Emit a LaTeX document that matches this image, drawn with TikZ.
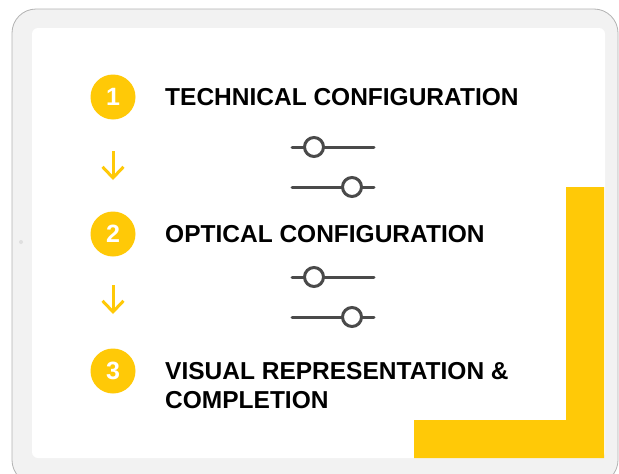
\documentclass[tikz,border=0pt]{standalone}
\usepackage{fontspec}
\setmainfont{Liberation Sans}
\usetikzlibrary{arrows.meta}
\definecolor{jaune}{HTML}{FFC907}
\definecolor{fond}{HTML}{F2F2F2}
\definecolor{gris}{HTML}{4A4A4A}
\tikzset{
  etape/.style={circle,fill=jaune,text=white,minimum size=45pt,inner sep=0pt,
    font=\fontsize{25}{25}\selectfont\bfseries},
  titre/.style={anchor=west,align=left,inner sep=0pt,
    font=\fontsize{24.5}{29}\selectfont\bfseries},
  fleche/.style={jaune,line width=3pt,-{Straight Barb[length=11pt,width=21pt]}},
  rail/.style={gris,line width=3pt,line cap=round},
  curseur/.style={circle,draw=gris,fill=white,line width=3pt,minimum size=19pt,inner sep=0pt}
}
\begin{document}
\begin{tikzpicture}[x=1pt,y=-1pt]
    \useasboundingbox (0,0) rectangle (619,474);
    \clip (0,0) rectangle (619,474);

    % Cadre
    \draw[fill=fond,draw=gray!60,line width=0.8pt,rounded corners=24pt] (12,9) rectangle (618,484);
    \fill[white,rounded corners=6pt] (32,28) rectangle (605,458);
    \fill[gray!25] (21,242) circle (2);

    % Equerre jaune
    \fill[jaune] (566,187) -- (604,187) -- (604,458) -- (414,458) -- (414,420) -- (566,420) -- cycle;

    % Etapes
    \node[etape] (e1) at (113,97) {1};
    \node[etape] (e2) at (113,234) {2};
    \node[etape] (e3) at (113,371) {3};

    \node[titre] (t1) at (165,97) {TECHNICAL CONFIGURATION};
    \node[titre] (t2) at (165,234) {OPTICAL CONFIGURATION};
    \node[titre] (t3) at (165,385.5) {VISUAL REPRESENTATION \&\\COMPLETION};

    % Fleches
    \coordinate (f1a) at (113,151);
    \coordinate (f1b) at (113,180);
    \coordinate (f2a) at (113,285);
    \coordinate (f2b) at (113,314);
    \draw[fleche] (f1a) -- (f1b);
    \draw[fleche] (f2a) -- (f2b);

    % Curseurs
    \foreach \y in {147,277}{
      \draw[rail] (292,\y) -- (374,\y);
      \node[curseur] at (314,\y) {};
      \draw[rail] (292,\y+40) -- (374,\y+40);
      \node[curseur] at (352,\y+40) {};
    }
\end{tikzpicture}
\end{document}
